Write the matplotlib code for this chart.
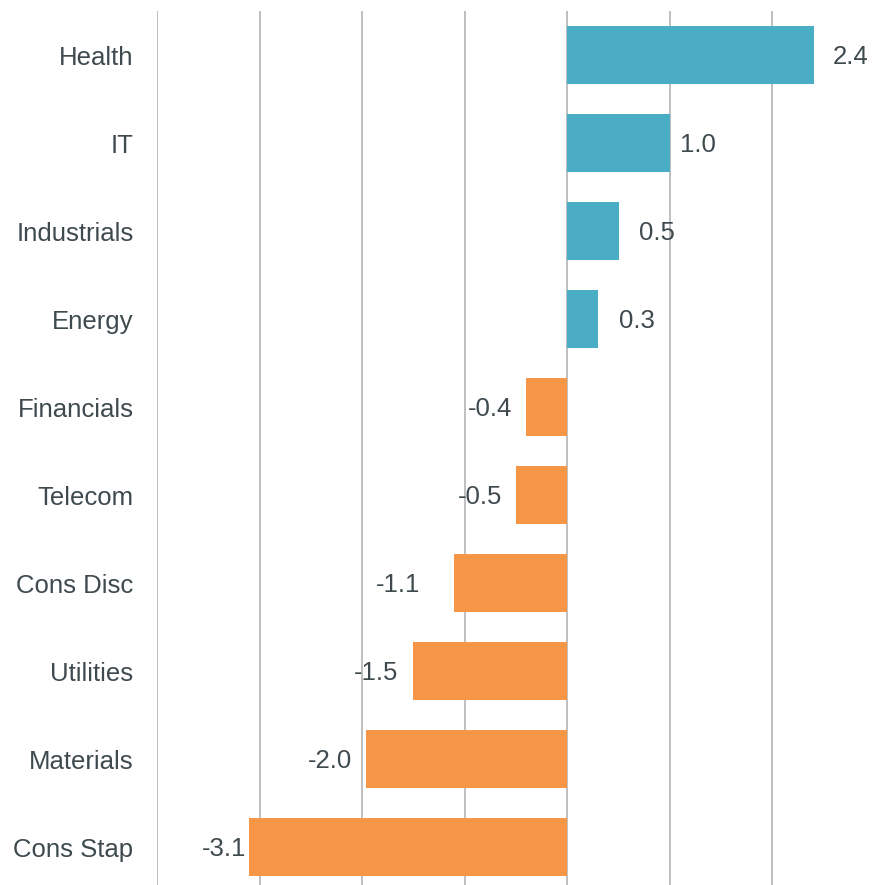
import matplotlib
matplotlib.use("Agg")
import matplotlib.pyplot as plt

categories = ["Health", "IT", "Industrials", "Energy", "Financials",
              "Telecom", "Cons Disc", "Utilities", "Materials", "Cons Stap"]
values = [2.4, 1.0, 0.5, 0.3, -0.4, -0.5, -1.1, -1.5, -1.96, -3.1]
grid_ticks = [-4, -3, -2, -1, 0, 1, 2]

# label offsets in points (layout only)
label_pad = [14, 7, 15, 15, 10, 10, 25, 11, 10, 2]

POS = "#4BACC6"
NEG = "#F79646"
TXT = "#3F4A4F"
FS = 18.5

plt.rcParams["font.family"] = ["Liberation Sans", "DejaVu Sans"]

fig = plt.figure(figsize=(8.73, 8.85), dpi=100)
ax = fig.add_axes([157 / 873, 0.0, 1 - 157 / 873, 1 - 11 / 885])

y = list(range(len(categories)))
colors = [POS if v >= 0 else NEG for v in values]
ax.barh(y, values, height=0.66, color=colors, zorder=3)

base_off = -0.358 * FS
for yi, v, pad in zip(y, values, label_pad):
    if v >= 0:
        ax.annotate(f"{v:.1f}", (v, yi), xytext=(pad, base_off), textcoords="offset points",
                    ha="left", va="baseline", fontsize=FS, color=TXT, zorder=4)
    else:
        ax.annotate(f"{v:.1f}", (v, yi), xytext=(-pad, base_off), textcoords="offset points",
                    ha="right", va="baseline", fontsize=FS, color=TXT, zorder=4)

ax.set_xlim(-4.0, 2.98)
ax.set_ylim(9.43, -0.5)
ax.set_xticks(grid_ticks)
ax.set_xticklabels([])
ax.set_yticks(y)
ax.set_yticklabels(categories, fontsize=FS, color=TXT)
ax.tick_params(axis="both", length=0)
ax.tick_params(axis="y", pad=17)
ax.grid(axis="x", color="#BFBFBF", linewidth=1.4, zorder=0)
ax.set_axisbelow(True)
for s in ax.spines.values():
    s.set_visible(False)

fig.savefig("out.png", dpi=100)
